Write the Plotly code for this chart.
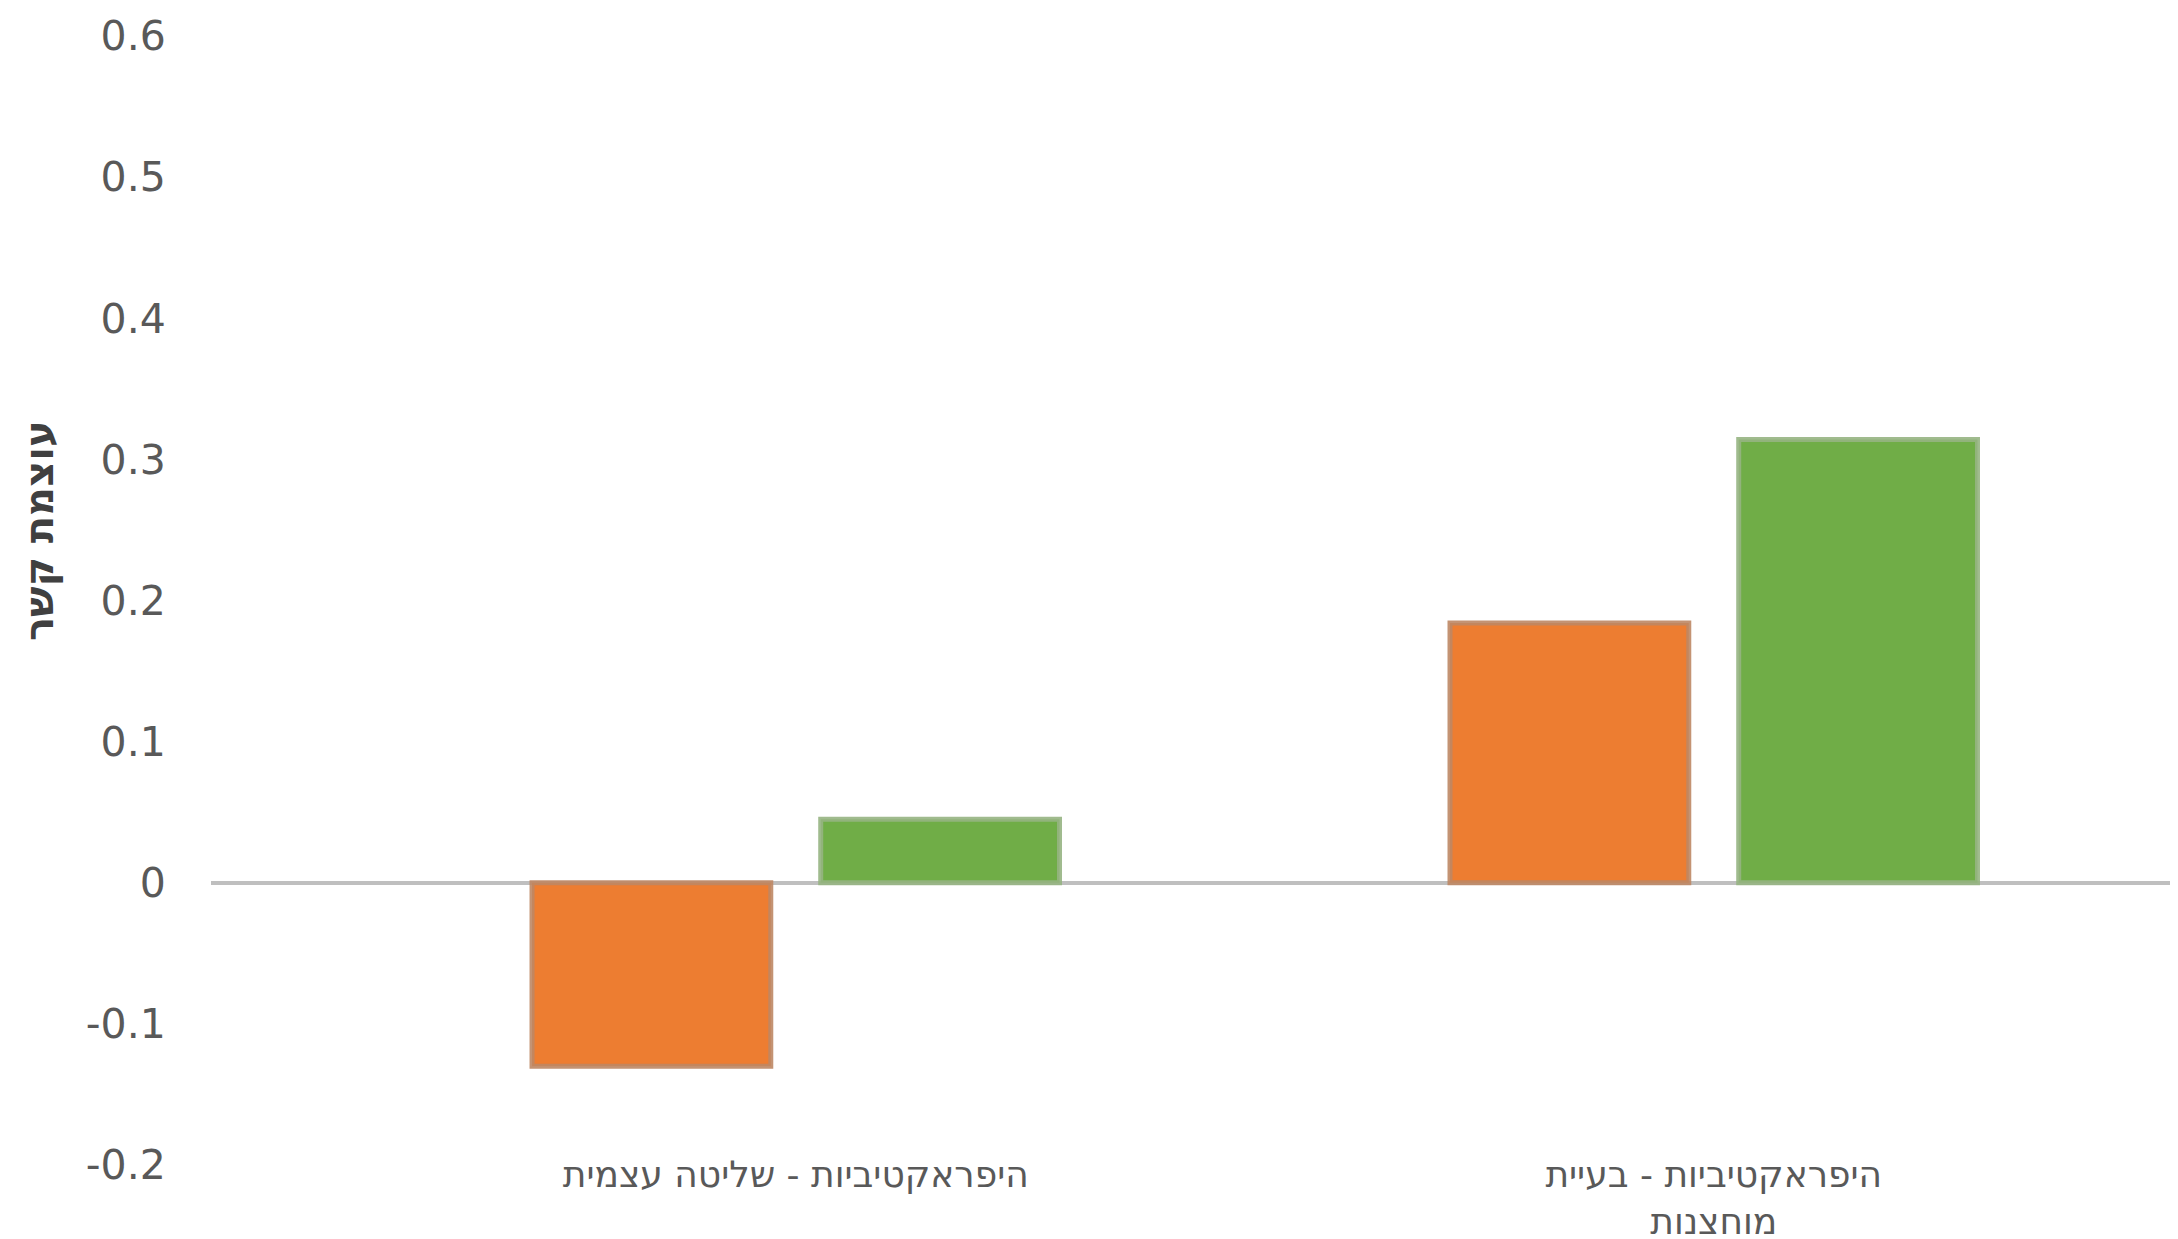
import plotly.graph_objects as go

categories = ["היפראקטיביות - שליטה עצמית", "היפראקטיביות - בעיית<br>מוחצנות"]
series_orange = [-0.13, 0.184]
series_green = [0.045, 0.314]
y_ticks = [-0.2, -0.1, 0, 0.1, 0.2, 0.3, 0.4, 0.5, 0.6]
y_tick_labels = ["-0.2", "-0.1", "0", "0.1", "0.2", "0.3", "0.4", "0.5", "0.6"]
y_title = "עוצמת קשר"

W, H = 2178, 1239
ml, mr, mt, mb = 203, 5, 28, 82

fig = go.Figure()
fig.add_trace(go.Bar(x=categories, y=series_orange, name="1",
                     marker=dict(color="#ED7D31", line=dict(color="rgba(190,135,100,0.9)", width=5))))
fig.add_trace(go.Bar(x=categories, y=series_green, name="2",
                     marker=dict(color="#70AD47", line=dict(color="rgba(150,180,130,0.9)", width=5))))

fig.update_layout(
    width=W, height=H,
    margin=dict(l=ml, r=mr, t=mt, b=mb, autoexpand=False),
    paper_bgcolor="white", plot_bgcolor="white",
    barmode="group", bargap=0.371, bargroupgap=0.173,
    showlegend=False,
    font=dict(family="DejaVu Sans", color="#595959"),
)
fig.update_xaxes(
    type="category", range=[-0.637, 1.509],
    showgrid=False, showline=False, zeroline=False,
    tickfont=dict(family="DejaVu Sans", size=36, color="#595959"),
    ticks="", ticklabelstandoff=-15, automargin=False,
)
fig.update_yaxes(
    range=[-0.2, 0.6], tickvals=y_ticks, ticktext=y_tick_labels,
    showgrid=False, showline=False,
    zeroline=True, zerolinecolor="#BFBFBF", zerolinewidth=4,
    tickfont=dict(family="DejaVu Sans", size=41, color="#595959"),
    ticks="outside", ticklen=36, tickcolor="rgba(0,0,0,0)",
    automargin=False,
)
fig.add_annotation(
    text="<b>" + y_title + "</b>", textangle=-90,
    xref="paper", yref="paper",
    x=(31 - ml) / (W - ml - mr), y=(H - mb - 523) / (H - mt - mb),
    showarrow=False, xanchor="center", yanchor="middle",
    font=dict(family="DejaVu Sans", size=40, color="#404040"),
)
fig.write_html("out.html")
